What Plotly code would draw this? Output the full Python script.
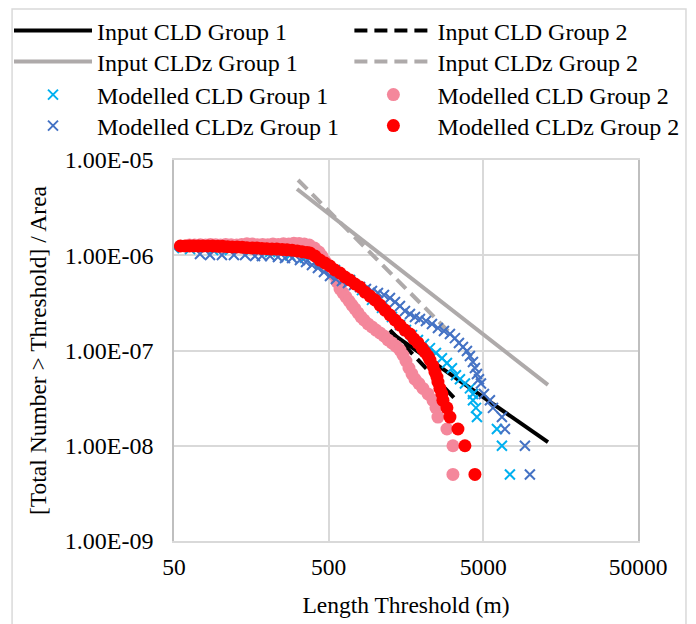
import plotly.graph_objects as go

# ---- Input CLD lines (power laws; endpoints) ----
cld_g1_x = [1245, 13090]
cld_g1_y = [1.56e-7, 1.09e-8]
cld_g2_x = [1245, 3426]
cld_g2_y = [1.64e-7, 2.88e-8]
cldz_g1_x = [312, 13090]
cldz_g1_y = [4.96e-6, 4.35e-8]
cldz_g2_x = [317, 3041]
cldz_g2_y = [6.17e-6, 1.53e-7]

# ---- Modelled CLD Group 1 (light blue x) ----
mod_cld_g1_x = [50, 63.5, 89.4, 115, 155, 209, 281, 351, 439, 549, 687, 821, 953,
                1106, 1283, 1445, 1580, 1728, 1889, 2065, 2258, 2470, 2700, 2909,
                3133, 3325, 3529, 3802, 4095, 4284, 4284, 4480, 4547, 6121, 6595,
                7428]
mod_cld_g1_y = [1.19e-6, 1.16e-6, 1.135e-6, 1.135e-6, 1.11e-6, 1.08e-6, 1.0e-6,
                9.4e-7, 8.3e-7, 7.0e-7, 5.5e-7, 4.3e-7, 3.4e-7, 2.8e-7, 2.25e-7,
                1.85e-7, 1.64e-7, 1.45e-7, 1.29e-7, 1.17e-7, 1.06e-7, 9.4e-8,
                8.3e-8, 7.4e-8, 6.5e-8, 5.5e-8, 5.0e-8, 4.5e-8, 4.0e-8, 3.5e-8,
                3.0e-8, 2.5e-8, 2.0e-8, 1.5e-8, 1.0e-8, 5.0e-9]

# ---- Modelled CLD Group 2 (pink circles) ----
mod_cld_g2_x = [63, 68, 74, 80, 86, 93, 100, 108, 117, 127, 137, 148, 160, 173,
                187, 202, 218, 236, 255, 276, 298, 322, 348, 375, 405, 433, 452,
                473, 495, 517, 541, 566, 592, 619, 647, 677, 707, 740, 774, 809,
                846, 898, 953, 1011, 1073, 1139, 1209, 1283, 1362, 1445, 1511,
                1580, 1652, 1728, 1807, 1918, 2035, 2193, 2362, 2470, 2544, 2909,
                3180, 3180]
mod_cld_g2_y = [1.28e-6, 1.28e-6, 1.29e-6, 1.28e-6, 1.30e-6, 1.29e-6, 1.28e-6,
                1.30e-6, 1.29e-6, 1.28e-6, 1.30e-6, 1.32e-6, 1.31e-6, 1.29e-6,
                1.30e-6, 1.29e-6, 1.31e-6, 1.30e-6, 1.32e-6, 1.31e-6, 1.34e-6,
                1.33e-6, 1.31e-6, 1.28e-6, 1.19e-6, 1.08e-6, 9.8e-7, 8.7e-7,
                7.9e-7, 7.0e-7, 6.2e-7, 5.24e-7, 4.42e-7, 4.02e-7, 3.65e-7,
                3.31e-7, 3.0e-7, 2.73e-7, 2.48e-7, 2.25e-7, 2.09e-7, 1.9e-7,
                1.77e-7, 1.64e-7, 1.53e-7, 1.42e-7, 1.29e-7, 1.2e-7, 1.11e-7,
                1.01e-7, 8.97e-8, 7.76e-8, 6.55e-8, 5.67e-8, 5.0e-8, 4.5e-8,
                4.0e-8, 3.5e-8, 3.0e-8, 2.5e-8, 2.0e-8, 1.5e-8, 1.0e-8, 5.0e-9]

# ---- Modelled CLDz Group 1 (blue x) ----
mod_cldz_g1_x = [73.6, 85.4, 102, 122, 144, 167, 185, 209, 235, 261, 290, 326,
                 357, 390, 426, 466, 510, 557, 609, 666, 729, 797, 871, 953, 1041,
                 1139, 1245, 1342, 1445, 1557, 1677, 1807, 1946, 2128, 2327, 2544,
                 2782, 3041, 3276, 3478, 3692, 3917, 4095, 4284, 4412, 4547, 4684,
                 4826, 5045, 5515, 5770, 6595, 6897, 9285, 10000]
mod_cldz_g1_y = [1.03e-6, 1.007e-6, 1.007e-6, 1.007e-6, 1.007e-6, 9.82e-7,
                 9.82e-7, 9.82e-7, 9.59e-7, 9.36e-7, 9.36e-7, 8.9e-7, 8.49e-7,
                 7.9e-7, 7.35e-7, 6.67e-7, 6.05e-7, 5.63e-7, 5.37e-7, 5.11e-7,
                 4.87e-7, 4.64e-7, 4.42e-7, 4.21e-7, 4.02e-7, 3.83e-7, 3.56e-7,
                 3.23e-7, 2.93e-7, 2.6e-7, 2.42e-7, 2.25e-7, 2.14e-7, 2.04e-7,
                 1.9e-7, 1.72e-7, 1.6e-7, 1.49e-7, 1.35e-7, 1.2e-7, 1.09e-7,
                 9.88e-8, 8.76e-8, 7.57e-8, 6.55e-8, 5.67e-8, 5.0e-8, 4.5e-8,
                 3.5e-8, 3.0e-8, 2.5e-8, 2.0e-8, 1.5e-8, 1.0e-8, 5.0e-9]

# ---- Modelled CLDz Group 2 (red circles) ----
mod_cldz_g2_x = [55, 59, 63, 67, 72, 77, 83, 89, 96, 103, 111, 119, 128, 138, 148,
                 160, 172, 185, 199, 215, 231, 250, 269, 290, 313, 336, 362, 378,
                 408, 439, 473, 510, 549, 592, 637, 687, 740, 797, 858, 925, 996,
                 1073, 1156, 1245, 1342, 1445, 1557, 1677, 1780, 1889, 2006, 2096,
                 2193, 2258, 2362, 2433, 2507, 2544, 2620, 2700, 2740, 2909, 3041,
                 3426, 3802, 4412]
mod_cldz_g2_y = [1.25e-6, 1.25e-6, 1.25e-6, 1.25e-6, 1.25e-6, 1.25e-6, 1.25e-6,
                 1.25e-6, 1.24e-6, 1.24e-6, 1.23e-6, 1.22e-6, 1.22e-6, 1.21e-6,
                 1.2e-6, 1.19e-6, 1.19e-6, 1.18e-6, 1.17e-6, 1.16e-6, 1.16e-6,
                 1.15e-6, 1.14e-6, 1.13e-6, 1.11e-6, 1.09e-6, 1.07e-6, 1.057e-6,
                 9.82e-7, 8.9e-7, 8.29e-7, 7.71e-7, 7.0e-7, 6.51e-7, 5.91e-7,
                 5.5e-7, 4.99e-7, 4.64e-7, 4.11e-7, 3.73e-7, 3.39e-7, 3.0e-7,
                 2.66e-7, 2.36e-7, 2.09e-7, 1.85e-7, 1.64e-7, 1.49e-7, 1.32e-7,
                 1.2e-7, 1.06e-7, 9.64e-8, 8.76e-8, 7.95e-8, 6.88e-8, 5.95e-8,
                 5.27e-8, 4.67e-8, 4.0e-8, 3.5e-8, 3.0e-8, 2.5e-8, 2.0e-8, 1.5e-8,
                 1.0e-8, 5.0e-9]

# ---- Axis ticks ----
x_tickvals = [50, 500, 5000, 50000]
x_ticktext = ["50", "500", "5000", "50000"]
y_tickvals = [1e-9, 1e-8, 1e-7, 1e-6, 1e-5]
y_ticktext = ["1.00E-09", "1.00E-08", "1.00E-07", "1.00E-06", "1.00E-05"]

FONT = "Liberation Serif"
BASE = 23.5
LEG_FONT = 24

fig = go.Figure()
fig.add_trace(go.Scatter(x=cld_g1_x, y=cld_g1_y, mode="lines", name="Input CLD Group 1",
                         legend="legend", line=dict(color="black", width=4)))
fig.add_trace(go.Scatter(x=cld_g2_x, y=cld_g2_y, mode="lines", name="Input CLD Group 2",
                         legend="legend2",
                         line=dict(color="black", width=4, dash="13px,7px")))
fig.add_trace(go.Scatter(x=cldz_g1_x, y=cldz_g1_y, mode="lines", name="Input CLDz Group 1",
                         legend="legend3", line=dict(color="#AEAAAA", width=4)))
fig.add_trace(go.Scatter(x=cldz_g2_x, y=cldz_g2_y, mode="lines", name="Input CLDz Group 2",
                         legend="legend4",
                         line=dict(color="#AEAAAA", width=4, dash="13px,7px")))
fig.add_trace(go.Scatter(x=mod_cld_g1_x, y=mod_cld_g1_y, mode="markers",
                         name="Modelled CLD Group 1", legend="legend5",
                         marker=dict(symbol="x-thin", size=10,
                                     line=dict(color="#00B0F0", width=2), color="#00B0F0")))
fig.add_trace(go.Scatter(x=mod_cld_g2_x, y=mod_cld_g2_y, mode="markers",
                         name="Modelled CLD Group 2", legend="legend6",
                         marker=dict(symbol="circle", size=13, color="#F4879B")))
fig.add_trace(go.Scatter(x=mod_cldz_g1_x, y=mod_cldz_g1_y, mode="markers",
                         name="Modelled CLDz Group 1", legend="legend7",
                         marker=dict(symbol="x-thin", size=10,
                                     line=dict(color="#4472C4", width=2), color="#4472C4")))
fig.add_trace(go.Scatter(x=mod_cldz_g2_x, y=mod_cldz_g2_y, mode="markers",
                         name="Modelled CLDz Group 2", legend="legend8",
                         marker=dict(symbol="circle", size=13, color="#FF0000")))

# legend boxes: two columns x four rows (positions in paper units)
col_x = [-0.3556, 0.378]
row_y = [1.3976, 1.3163, 1.2296, 1.1483]
legend_layout = {}
names = ["legend", "legend2", "legend3", "legend4", "legend5", "legend6", "legend7", "legend8"]
for i, nm in enumerate(names):
    legend_layout[nm] = dict(x=col_x[i % 2], y=row_y[i // 2], xanchor="left", yanchor="top",
                             orientation="v", itemwidth=78,
                             font=dict(family=FONT, size=LEG_FONT, color="black"),
                             bgcolor="rgba(0,0,0,0)", borderwidth=0)

fig.update_layout(
    width=696, height=624,
    margin=dict(l=174, r=58, t=160, b=83, autoexpand=False),
    paper_bgcolor="white", plot_bgcolor="white",
    font=dict(family=FONT, size=BASE, color="black"),
    showlegend=True,
    **legend_layout,
    xaxis=dict(type="log", range=[1.69897, 4.69897], tickvals=x_tickvals,
               ticktext=x_ticktext, showgrid=True, gridcolor="#D9D9D9", gridwidth=1.5,
               showline=True, linecolor="#D9D9D9", linewidth=1.5, mirror=True,
               ticks="", zeroline=False, ticklabelstandoff=4,
               tickfont=dict(size=BASE),
               title=dict(text="Length Threshold (m)", font=dict(size=BASE), standoff=18)),
    yaxis=dict(type="log", range=[-9, -5], tickvals=y_tickvals, ticktext=y_ticktext,
               showgrid=True, gridcolor="#D9D9D9", gridwidth=1.5,
               showline=True, linecolor="#BFBFBF", linewidth=1.5, mirror=True,
               ticks="", zeroline=False, ticklabelstandoff=14,
               tickfont=dict(size=24),
               title=dict(text="[Total Number > Threshold] / Area", font=dict(size=BASE),
                          standoff=12)),
    shapes=[dict(type="rect", xref="paper", yref="paper", x0=-0.349, x1=1.1034,
                 y0=-0.234, y1=1.396, line=dict(color="#D9D9D9", width=1.5),
                 fillcolor="rgba(0,0,0,0)", layer="below")],
)

fig.write_html("out.html")
